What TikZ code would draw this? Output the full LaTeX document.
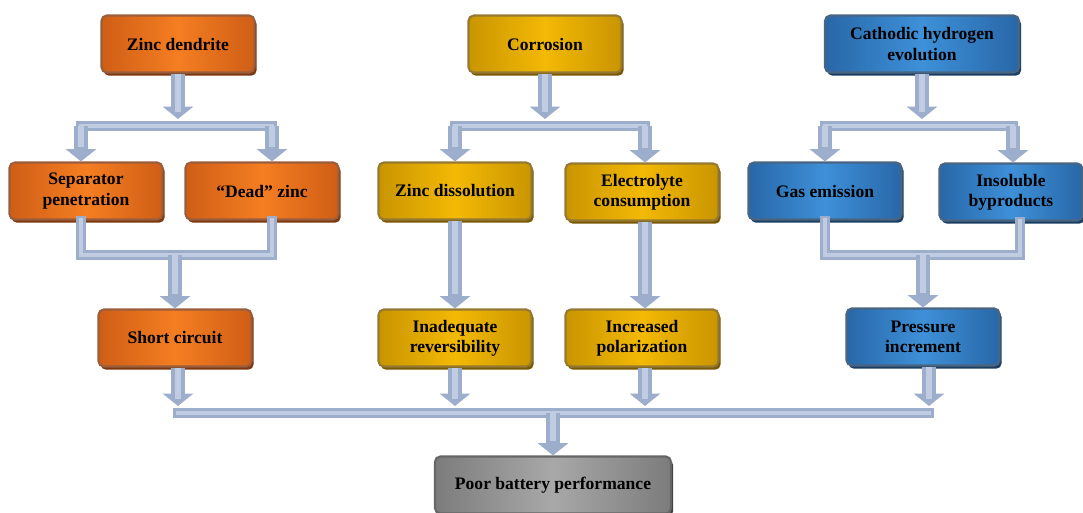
\documentclass[tikz,border=0pt]{standalone}
\usepackage{fontspec}
\setmainfont{Liberation Serif}
\usetikzlibrary{arrows.meta,shadows}

\definecolor{orangemid}{HTML}{F57E22}
\definecolor{orangeedge}{HTML}{CF5E16}
\definecolor{orangeframe}{HTML}{7E360C}
\definecolor{goldmid}{HTML}{F3B905}
\definecolor{goldedge}{HTML}{C99500}
\definecolor{goldframe}{HTML}{7A5800}
\definecolor{bluemid}{HTML}{3E90D8}
\definecolor{blueedge}{HTML}{2867A8}
\definecolor{blueframe}{HTML}{1B3E63}
\definecolor{graymid}{HTML}{A8A8A8}
\definecolor{grayedge}{HTML}{7C7C7C}
\definecolor{grayframe}{HTML}{404040}
\definecolor{pipecol}{HTML}{9CAECB}
\definecolor{pipelight}{HTML}{BFCCE2}

\begin{document}
\begin{tikzpicture}[x=0.02cm,y=-0.02cm,
  box/.style={rounded corners=3pt, minimum width=3.06cm, minimum height=1.14cm,
    align=center, inner sep=2pt, line width=1.2pt,
    font=\fontsize{10}{11.5}\selectfont\bfseries},
  orangebox/.style={box, left color=orangeedge, right color=orangeedge,
    middle color=orangemid, draw=orangeframe!80,
    drop shadow={shadow xshift=1.2pt, shadow yshift=-1.8pt, fill=orangeframe, opacity=1}},
  goldbox/.style={box, left color=goldedge, right color=goldedge,
    middle color=goldmid, draw=goldframe!80,
    drop shadow={shadow xshift=1.2pt, shadow yshift=-1.8pt, fill=goldframe, opacity=1}},
  bluebox/.style={box, left color=blueedge, right color=blueedge,
    middle color=bluemid, draw=blueframe!80,
    drop shadow={shadow xshift=1.2pt, shadow yshift=-1.8pt, fill=blueframe, opacity=1}},
  graybox/.style={box, left color=grayedge, right color=grayedge,
    middle color=graymid, draw=grayframe!80,
    drop shadow={shadow xshift=1.2pt, shadow yshift=-1.8pt, fill=grayframe, opacity=1}},
  pipe/.style={draw=pipecol, line width=7.6pt, -{Triangle[width=17pt,length=7pt]},
    postaction={draw=pipelight, line width=3pt, -, shorten >=8pt}},
  bar/.style={draw=pipecol, line width=5.2pt, line cap=rect,
    postaction={draw=pipelight, line width=2.4pt}},
]
\useasboundingbox (0,0) rectangle (1083,512);

% 1st tier:
\node[orangebox] (zd) at (178,44) {Zinc dendrite};
\node[goldbox] (co) at (545,44) {Corrosion};
\node[bluebox, minimum width=3.88cm] (ch) at (922,44) {Cathodic hydrogen\\evolution};

% 2nd tier:
\node[orangebox] (sp) at (86,191) {Separator\\penetration};
\node[orangebox] (dz) at (262,191) {``Dead'' zinc};
\node[goldbox] (zs) at (455,191) {Zinc dissolution};
\node[goldbox] (ec) at (642,192) {Electrolyte\\consumption};
\node[bluebox] (ge) at (825,191) {Gas emission};
\node[bluebox, minimum width=2.86cm] (ib) at (1011,192) {Insoluble\\byproducts};

% 3rd tier:
\node[orangebox] (sc) at (175,338) {Short circuit};
\node[goldbox] (ir) at (455,338) {Inadequate\\reversibility};
\node[goldbox] (ip) at (642,338) {Increased\\polarization};
\node[bluebox] (pi) at (923,337) {Pressure\\increment};

% bottom:
\node[graybox, minimum width=4.72cm] (pb) at (553,485) {Poor battery performance};

% splitting bars
\coordinate (zl) at (81,126);  \coordinate (zr) at (272,126);
\coordinate (cl) at (455,126); \coordinate (cr) at (645,126);
\coordinate (hl) at (825,126); \coordinate (hr) at (1013,126);
\draw[bar] (zl) -- (zr);
\draw[bar] (cl) -- (cr);
\draw[bar] (hl) -- (hr);
\draw[pipe, shorten >=4pt] (zd) -- (zd |- zl);
\draw[pipe, shorten >=4pt] (co) -- (co |- cl);
\draw[pipe, shorten >=4pt] (ch) -- (ch |- hl);
\draw[pipe] (zl) -- (sp.north -| zl);
\draw[pipe] (zr) -- (dz.north -| zr);
\draw[pipe] (cl) -- (zs.north -| cl);
\draw[pipe] (cr) -- (ec.north -| cr);
\draw[pipe] (hl) -- (ge.north -| hl);
\draw[pipe] (hr) -- (ib.north -| hr);

% merging bars
\coordinate (ml) at (81,255);  \coordinate (mr) at (272,255);
\coordinate (nl) at (825,255); \coordinate (nr) at (1020,255);
\draw[bar] (sp.south -| ml) -- (ml) -- (mr) -- (dz.south -| mr);
\draw[bar] (ge.south -| nl) -- (nl) -- (nr) -- (ib.south -| nr);
\draw[pipe] (175,255) -- (sc);
\draw[pipe] (923,255) -- (pi);
\draw[pipe] (zs.south -| cl) -- (ir.north -| cl);
\draw[pipe] (ec.south -| cr) -- (ip.north -| cr);

% last bar
\coordinate (bl) at (178,413); \coordinate (br) at (929,413);
\draw[bar] (bl) -- (br);
\draw[pipe, shorten >=4pt] (sc.south -| bl) -- (bl);
\draw[pipe, shorten >=4pt] (ir.south -| cl) -- (bl -| cl);
\draw[pipe, shorten >=4pt] (ip.south -| cr) -- (bl -| cr);
\draw[pipe, shorten >=4pt] (pi.south -| br) -- (br);
\draw[pipe] (553,413) -- (pb);

\end{tikzpicture}
\end{document}
